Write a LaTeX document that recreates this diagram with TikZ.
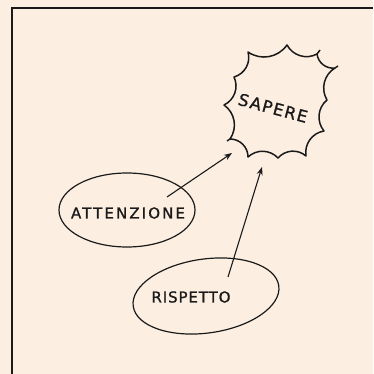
\documentclass[tikz,border=0pt]{standalone}
\usepackage{fontspec}
\setsansfont{DejaVu Sans}
\newfontfamily\handA[LetterSpace=8,FakeBold=1.2]{DejaVu Sans}
\newfontfamily\handB[LetterSpace=14,FakeBold=1.2]{DejaVu Sans}
\newfontfamily\handC[LetterSpace=6,FakeBold=1.2]{DejaVu Sans}
\usetikzlibrary{shapes.geometric,arrows.meta}
\definecolor{bg}{HTML}{FCEFE2}
\definecolor{ink}{HTML}{1A1A1A}
\tikzset{
  ink/.style={draw=ink, line width=1.5pt},
  blob/.style={draw=ink, line width=1.2pt, ellipse, inner sep=0pt},
  conn/.style={draw=ink, line width=1.1pt, -{Stealth[length=8pt,width=6pt]}},
  hand/.style={text=ink, inner sep=0pt}
}
\begin{document}
\begin{tikzpicture}[x=1pt,y=-1pt]
\useasboundingbox (0,0) rectangle (373,374);
\fill[bg] (0,0) rectangle (373,374);
% frame
\draw[draw=ink, line width=1.5pt] (12,374) -- (12,8) -- (373,8);
% starburst
\draw[ink, line join=round]
  (248,52) to[bend right=45] (287,45) to[bend right=45] (317,54)
  to[bend right=45] (335,68) to[bend right=45] (327,100)
  to[bend right=45] (324,131) to[bend right=45] (306,156)
  to[bend right=45] (278,158) to[bend right=45] (248,157)
  to[bend right=45] (230,139) to[bend right=45] (224,105)
  to[bend right=45] (234,77) to[bend right=45] cycle;
\draw[ink] (317,54) -- (320,50);
\draw[ink] (335,68) -- (338,66);
\draw[ink] (230,139) -- (227,141);
\node[hand, rotate=-15, font=\handA\fontsize{16.5}{18}\selectfont] (sap) at (273,108) {SAPERE};
% ellipses
\node[blob, minimum width=136pt, minimum height=74pt] (att) at (127,210) {};
\node[hand, font=\handB\fontsize{15}{17}\selectfont] (attt) at (128,213) {ATTENZIONE};
\node[blob, rotate=8, minimum width=147pt, minimum height=74pt] (risp) at (206,296) {};
\node[hand, font=\handC\fontsize{15}{17}\selectfont] (rispt) at (191,297) {RISPETTO};
% connector ends
\coordinate (attS) at (167,197);
\coordinate (sapA) at (232,153);
\coordinate (rispS) at (228,277);
\coordinate (sapB) at (262,167);
\draw[conn] (attS) -- (sapA);
\draw[conn] (rispS) -- (sapB);
\end{tikzpicture}
\end{document}
